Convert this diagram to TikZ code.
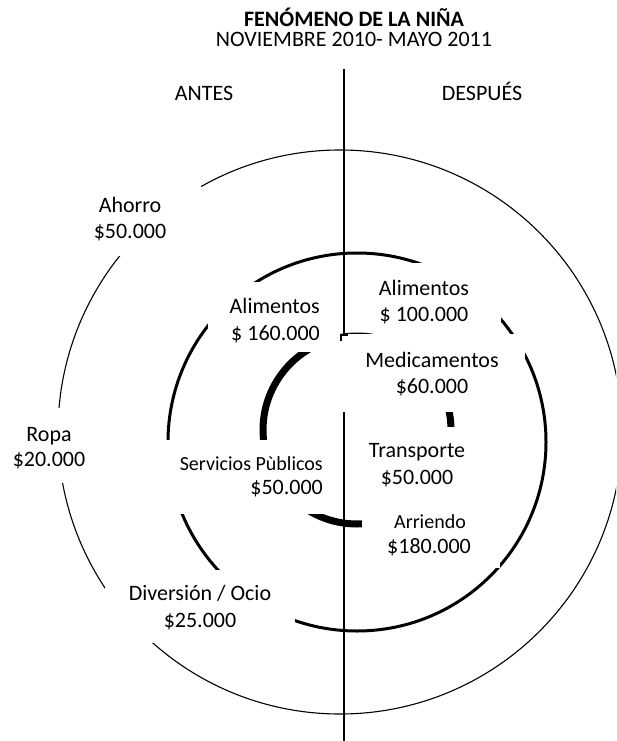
\documentclass[tikz,border=0pt]{standalone}
\usepackage{fontspec}
\setmainfont{Carlito}
\begin{document}
\begin{tikzpicture}[x=1pt,y=1pt,
  outerring/.style={line width=1.1pt},
  midring/.style={line width=3pt},
  innerring/.style={line width=7pt},
  axis/.style={line width=1.6pt},
  mask/.style={fill=white, draw=none},
  lbl/.style={inner sep=0pt, anchor=base, font=\fontsize{22}{26}\selectfont},
  lblr/.style={inner sep=0pt, anchor=base east, font=\fontsize{22}{26}\selectfont},
  sml/.style={inner sep=0pt, anchor=base, font=\fontsize{20}{24}\selectfont},
  smlr/.style={inner sep=0pt, anchor=base east, font=\fontsize{20}{24}\selectfont},
  ttl/.style={inner sep=0pt, anchor=base, font=\fontsize{22}{26}\selectfont\bfseries},
]
\useasboundingbox (0,0) rectangle (616,-741);
\clip (0,0) rectangle (616,-741);
\fill[white] (0,0) rectangle (616,-741);
\coordinate (Co) at (340,-432);
\coordinate (Cm) at (357,-442);
\coordinate (Ci) at (357,-430);
% rings and axis, drawn whole
\draw[outerring] (Co) circle[radius=282];
\draw[midring] (Cm) circle[radius=189];
\draw[innerring] (Ci) circle[radius=94];
\coordinate (axtop) at (344,-69);
\coordinate (axbot) at (344,-741);
\draw[axis] (axtop) -- (axbot);
% white label boxes that hide parts of the rings
\fill[mask] (85,-182) rectangle (201,-256);   % Ahorro
\fill[mask] (5,-408) rectangle (95,-483);     % Ropa
\fill[mask] (105,-570) rectangle (295,-643);  % Diversion
\fill[mask] (208,-282) rectangle (340,-352);  % Alimentos left
\fill[mask] (370,-263) rectangle (501,-330);  % Alimentos right
\fill[mask] (341,-334) rectangle (525,-412);  % Medicamentos
\fill[mask] (362,-427) rectangle (480,-500);  % Transporte
\fill[mask] (362,-500) rectangle (500,-568);  % Arriendo
\fill[mask] (160,-440) rectangle (338,-514);  % Servicios
% small tick left at the end of the upper axis
\coordinate (tickr) at (348,-335);
\coordinate (tickl) at (341,-335);
\coordinate (tickd) at (341,-341);
\draw[line width=1.4pt] (tickr) -- (tickl) -- (tickd);
% titles
\node[ttl] (title) at (354,-27) {FENÓMENO DE LA NIÑA};
\node[lbl] (subtitle) at (354,-47) {NOVIEMBRE 2010- MAYO 2011};
\node[lbl] (antes) at (204,-101) {ANTES};
\node[lbl] (despues) at (482,-101) {DESPUÉS};
% left labels
\node[lbl] (ahorro1) at (130,-212) {Ahorro};
\node[lbl] (ahorro2) at (130,-238) {\$50.000};
\node[lbl] (ropa1) at (49,-441) {Ropa};
\node[lbl] (ropa2) at (49,-466) {\$20.000};
\node[lblr] (alimL1) at (320,-313) {Alimentos};
\node[lblr] (alimL2) at (320,-340) {\$ 160.000};
\node[smlr] (serv1) at (323,-470) {Servicios Pùblicos};
\node[lblr] (serv2) at (323,-494) {\$50.000};
\node[lbl] (div1) at (200,-600) {Diversión / Ocio};
\node[lbl] (div2) at (200,-627) {\$25.000};
% right labels
\node[lbl] (alimR1) at (424,-295) {Alimentos};
\node[lbl] (alimR2) at (424,-321) {\$ 100.000};
\node[lbl] (medic1) at (432,-367) {Medicamentos};
\node[lbl] (medic2) at (432,-393) {\$60.000};
\node[lbl] (transp1) at (417,-457) {Transporte};
\node[lbl] (transp2) at (417,-484) {\$50.000};
\node[sml] (arr1) at (430,-528) {Arriendo};
\node[lbl] (arr2) at (429,-553) {\$180.000};
\end{tikzpicture}
\end{document}
